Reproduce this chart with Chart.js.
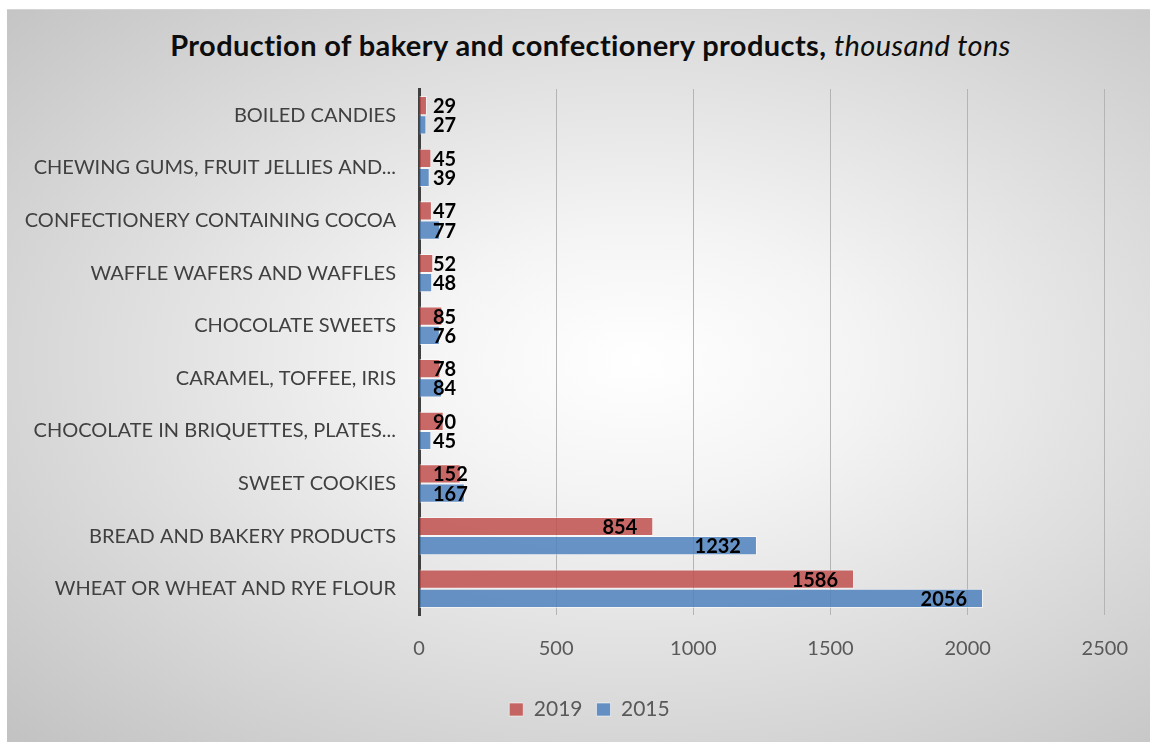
<!DOCTYPE html>
<html>
<head>
<meta charset="utf-8">
<title>Production of bakery and confectionery products</title>
<script src="https://cdn.jsdelivr.net/npm/chart.js@4.4.1/dist/chart.umd.min.js"></script>
<style>
    html, body {
        margin: 0;
        padding: 0;
        background: #ffffff;
    }

    .chart-box {
        position: absolute;
        left: 7px;
        top: 9px;
        width: 1143px;
        height: 733px;
        border-top: 1px solid #d4d4d4;
        box-sizing: border-box;
        background: radial-gradient(ellipse farthest-corner at 55% 48%, #ffffff 0%, #f4f4f4 25%, #c2c2c2 100%);
    }

    .chart-title {
        position: absolute;
        left: 0;
        top: 17px;
        width: 100%;
        padding-left: 24px;
        box-sizing: border-box;
        text-align: center;
        font-family: Lato, "Open Sans", sans-serif;
        font-size: 29px;
        letter-spacing: 0.4px;
        font-weight: 700;
        color: #0d0d0d;
    }

    .chart-title em {
        font-weight: 400;
    }

    canvas {
        position: absolute;
        left: 0;
        top: 0;
    }
</style>
</head>
<body>

<div class="chart-box">
    <div class="chart-title">Production of bakery and confectionery products, <em>thousand tons</em></div>
    <canvas id="barChart"></canvas>
</div>

<script>

/* ==========================================================
   DATA
========================================================== */

const categories = [
    "BOILED CANDIES",
    "CHEWING GUMS, FRUIT JELLIES AND...",
    "CONFECTIONERY CONTAINING COCOA",
    "WAFFLE WAFERS AND WAFFLES",
    "CHOCOLATE SWEETS",
    "CARAMEL, TOFFEE, IRIS",
    "CHOCOLATE IN BRIQUETTES, PLATES...",
    "SWEET COOKIES",
    "BREAD AND BAKERY PRODUCTS",
    "WHEAT OR WHEAT AND RYE FLOUR"
];

const values2019 = [29, 45, 47, 52, 85, 78, 90, 152, 854, 1586];
const values2015 = [27, 39, 77, 48, 76, 84, 45, 167, 1232, 2056];

const xTicks = [0, 500, 1000, 1500, 2000, 2500];

const FONT = "Lato, 'Open Sans', sans-serif";

/* ==========================================================
   VALUE LABELS (inside end, pushed right of the axis when short)
========================================================== */

const valueLabelPlugin = {

    id: "valueLabels",

    afterDatasetsDraw(chart) {

        const { ctx, scales: { x } } = chart;
        const base = x.getPixelForValue(0);

        ctx.save();
        ctx.font = "700 20px " + FONT;
        ctx.fillStyle = "#000000";
        ctx.textAlign = "right";
        ctx.textBaseline = "middle";

        chart.data.datasets.forEach((ds, i) => {

            const meta = chart.getDatasetMeta(i);

            meta.data.forEach((bar, j) => {

                const text = String(ds.data[j]);
                const w = ctx.measureText(text).width;
                const right = Math.max(bar.x - 16, base + 14 + w);

                ctx.fillText(text, right, bar.y + 1);

            });

        });

        ctx.restore();

    }

};

/* ==========================================================
   LEGEND OFFSET (centre it under the whole frame, not the padded box)
========================================================== */

const legendShiftPlugin = {

    id: "legendShift",

    afterLayout(chart) {

        const legend = chart.legend;

        if (!legend) {
            return;
        }

        legend.left += 32;
        legend.right += 32;
        legend.top += 8;
        legend.bottom += 8;

    }

};

/* ==========================================================
   CHART
========================================================== */

new Chart(document.getElementById("barChart"), {

    type: "bar",

    data: {
        labels: categories,
        datasets: [
            {
                label: "2019",
                data: values2019,
                backgroundColor: "rgba(192, 80, 77, 0.85)",
                borderColor: "rgba(255, 255, 255, 0.55)",
                borderWidth: 1,
                categoryPercentage: 0.73,
                barPercentage: 1
            },
            {
                label: "2015",
                data: values2015,
                backgroundColor: "rgba(79, 129, 189, 0.85)",
                borderColor: "rgba(255, 255, 255, 0.55)",
                borderWidth: 1,
                categoryPercentage: 0.73,
                barPercentage: 1
            }
        ]
    },

    options: {

        indexAxis: "y",
        responsive: true,
        maintainAspectRatio: false,
        animation: false,

        layout: {
            padding: { left: 0, right: 42, top: 79, bottom: 20 }
        },

        scales: {

            x: {
                min: 0,
                max: 2500,
                afterBuildTicks(axis) {
                    axis.ticks = xTicks.map(v => ({ value: v }));
                },
                afterFit(axis) {
                    axis.height = 62;
                },
                border: { display: false },
                grid: {
                    color: "#b4b4b4",
                    lineWidth: 1,
                    drawTicks: false
                },
                ticks: {
                    padding: 22,
                    color: "#595959",
                    font: { family: FONT, size: 20 },
                    callback: value => String(value)
                }
            },

            y: {
                afterFit(axis) {
                    axis.width = 412;
                },
                border: { display: true, color: "#404040", width: 3 },
                grid: { display: false },
                ticks: {
                    padding: 15,
                    color: "#404040",
                    font: { family: FONT, size: 20 }
                }
            }

        },

        plugins: {

            legend: {
                position: "bottom",
                labels: {
                    boxWidth: 14,
                    boxHeight: 13,
                    padding: 14,
                    color: "#595959",
                    font: { family: FONT, size: 21 }
                }
            },

            tooltip: { enabled: false }

        }

    },

    plugins: [valueLabelPlugin, legendShiftPlugin]

});

</script>
</body>
</html>
